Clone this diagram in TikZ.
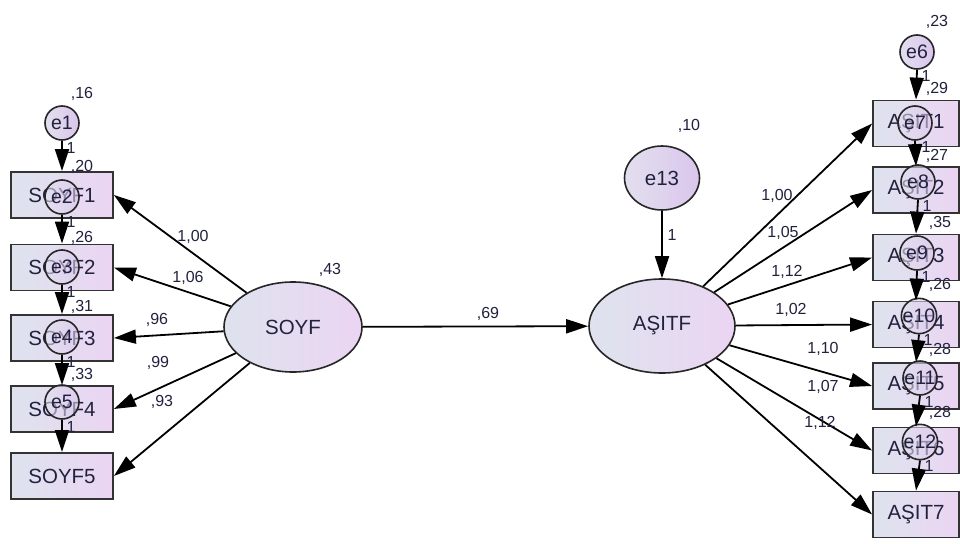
\documentclass[tikz,border=0pt]{standalone}
\usepackage{fontspec}
\setmainfont{Liberation Sans}
\usetikzlibrary{arrows.meta,shapes.geometric}
\definecolor{txt}{HTML}{22223F}
\definecolor{gl}{HTML}{DEE3EE}
\definecolor{gr}{HTML}{EBD5F3}
\definecolor{cl}{HTML}{E3DFEE}
\definecolor{cr}{HTML}{DAC6EC}
\begin{document}
\begin{tikzpicture}[x=1pt,y=-1pt,
  obsL/.style={draw=black!80, line width=1.8pt, left color=gl, right color=gr,
    minimum width=102pt, minimum height=46pt, inner sep=0pt,
    font=\fontsize{20.5}{20.5}\selectfont, text=txt},
  obsR/.style={obsL, minimum width=86pt},
  lat/.style={ellipse, draw=black!85, line width=1.6pt, left color=gl, right color=gr,
    inner sep=0pt, font=\fontsize{20.5}{20.5}\selectfont, text=txt},
  err/.style={circle, draw=black!85, line width=1.6pt, left color=cl, right color=cr,
    minimum size=34pt, inner sep=0pt, font=\fontsize{19.5}{19.5}\selectfont, text=txt},
  errov/.style={err, fill opacity=0.6, text opacity=1},
  arr/.style={-{Triangle[length=22pt,width=14pt]}, line width=1.8pt, black},
  num/.style={font=\fontsize{16}{16}\selectfont, text=txt, inner sep=0pt},
]
\useasboundingbox (0,0) rectangle (960,543);
\fill[white] (0,0) rectangle (960,543);

% observed boxes left
\node[obsL] (S1) at (62,195) {SOYF1};
\node[obsL] (S2) at (62,267.5) {SOYF2};
\node[obsL] (S3) at (62,338) {SOYF3};
\node[obsL] (S4) at (62,409) {SOYF4};
\node[obsL] (S5) at (62,476) {SOYF5};

% observed boxes right
\node[obsR] (A1) at (916,123.5) {AŞIT1};
\node[obsR] (A2) at (916,190) {AŞIT2};
\node[obsR] (A3) at (916,257.5) {AŞIT3};
\node[obsR] (A4) at (916,324.5) {AŞIT4};
\node[obsR] (A5) at (916,386) {AŞIT5};
\node[obsR] (A6) at (916,450.5) {AŞIT6};
\node[obsR] (A7) at (916,514.5) {AŞIT7};

% latent
\node[lat, minimum width=138pt, minimum height=90pt] (SOYF) at (293,327) {SOYF};
\node[lat, minimum width=146pt, minimum height=94pt] (ASITF) at (662,326) {AŞITF};
\node[lat, minimum width=75pt, minimum height=64pt, left color=cl, right color=cr] (e13) at (662,178) {e13};

% error circles left
\node[err] (e1) at (62,123) {e1};
\node[errov] (e2) at (62,197) {e2};
\node[errov] (e3) at (62,267) {e3};
\node[errov] (e4) at (62,337) {e4};
\node[errov] (e5) at (62,402) {e5};

% error circles right
\node[err] (e6) at (917,52) {e6};
\node[errov] (e7) at (915,123) {e7};
\node[errov] (e8) at (918,182) {e8};
\node[errov] (e9) at (917,253) {e9};
\node[errov] (e10) at (919,316) {e10};
\node[errov] (e11) at (920,378) {e11};
\node[errov] (e12) at (920,442) {e12};

% error arrows
\draw[arr] (e1.south) -- (S1.north);
\draw[arr] (e2.south) -- (S2.north);
\draw[arr] (e3.south) -- (S3.north);
\draw[arr] (e4.south) -- (S4.north);
\draw[arr] (e5.south) -- (S5.north);
\draw[arr] (e6.south) -- (A1.north);
\draw[arr] (e7.south) -- (A2.north);
\draw[arr] (e8.south) -- (A3.north);
\draw[arr] (e9.south) -- (A4.north);
\draw[arr] (e10.south) -- (A5.north);
\draw[arr] (e11.south) -- (A6.north);
\draw[arr] (e12.south) -- (A7.north);
\draw[arr] (e13.south) -- (ASITF.north);

% loadings
\draw[arr] (SOYF) -- (S1.east);
\draw[arr] (SOYF) -- (S2.east);
\draw[arr] (SOYF) -- (S3.east);
\draw[arr] (SOYF) -- (S4.east);
\draw[arr] (SOYF) -- (S5.east);
\draw[arr] (ASITF) -- (A1.west);
\draw[arr] (ASITF) -- (A2.west);
\draw[arr] (ASITF) -- (A3.west);
\draw[arr] (ASITF) -- (A4.west);
\draw[arr] (ASITF) -- (A5.west);
\draw[arr] (ASITF) -- (A6.west);
\draw[arr] (ASITF) -- (A7.west);
\draw[arr] (SOYF) -- (ASITF);

% fixed "1" labels
\node[num] (o1) at (71,148) {1};
\node[num] (o2) at (71,222) {1};
\node[num] (o3) at (71,292) {1};
\node[num] (o4) at (71,362) {1};
\node[num] (o5) at (71,427) {1};
\node[num] (o6) at (926,76) {1};
\node[num] (o7) at (926,147) {1};
\node[num] (o8) at (927,206) {1};
\node[num] (o9) at (926,277) {1};
\node[num] (o10) at (928,340) {1};
\node[num] (o11) at (929,402) {1};
\node[num] (o12) at (929,466) {1};
\node[num] (o13) at (672,235) {1};

% variances
\node[num] (v1) at (82,94) {,16};
\node[num] (v2) at (82,167) {,20};
\node[num] (v3) at (82,238) {,26};
\node[num] (v4) at (82,307) {,31};
\node[num] (v5) at (82,375) {,33};
\node[num] (v6) at (937,22) {,23};
\node[num] (v7) at (937,89) {,29};
\node[num] (v8) at (937,156) {,27};
\node[num] (v9) at (940,223) {,35};
\node[num] (v10) at (940,285) {,26};
\node[num] (v11) at (940,350) {,28};
\node[num] (v12) at (940,413) {,28};
\node[num] (v13) at (689,126) {,10};
\node[num] (vS) at (330,270) {,43};

% loading labels
\node[num] (l1) at (193,237) {1,00};
\node[num] (l2) at (188,278) {1,06};
\node[num] (l3) at (157,320) {,96};
\node[num] (l4) at (158,363) {,99};
\node[num] (l5) at (162,402) {,93};
\node[num] (r1) at (777,196) {1,00};
\node[num] (r2) at (783,233) {1,05};
\node[num] (r3) at (787,272) {1,12};
\node[num] (r4) at (791,310) {1,02};
\node[num] (r5) at (823,349) {1,10};
\node[num] (r6) at (823,387) {1,07};
\node[num] (r7) at (820,423) {1,12};
\node[num] (st) at (488,314) {,69};
\end{tikzpicture}
\end{document}
